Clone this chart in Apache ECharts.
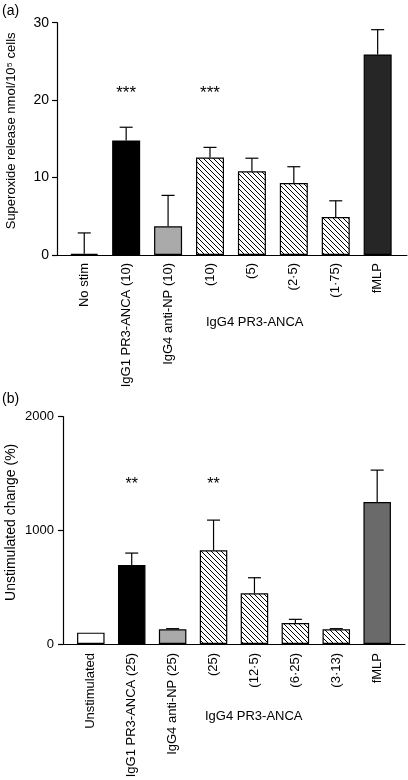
<!DOCTYPE html>
<html>
<head>
<meta charset="utf-8">
<script src="https://cdn.jsdelivr.net/npm/echarts@6/dist/echarts.min.js"></script>
<style>
html,body{margin:0;padding:0;background:#fff;}
#chart{width:408px;height:780px;}
</style>
</head>
<body>
<div id="chart"></div>
<script>
// ---- data ----
const catsA = ['No stim', 'IgG1 PR3-ANCA (10)', 'IgG4 anti-NP (10)', '(10)', '(5)', '(2\u00b75)', '(1\u00b775)', 'fMLP'];
const valuesA = [0.15, 14.8, 3.7, 12.6, 10.8, 9.3, 4.9, 25.9];
const errA = [2.7, 1.7, 4.0, 1.3, 1.7, 2.1, 2.1, 3.2];
const sigA = ['', '***', '', '***', '', '', '', ''];
const yTicksA = [0, 10, 20, 30];

const catsB = ['Unstimulated', 'IgG1 PR3-ANCA (25)', 'IgG4 anti-NP (25)', '(25)', '(12\u00b75)', '(6\u00b725)', '(3\u00b713)', 'fMLP'];
const valuesB = [100, 695, 129, 824, 446, 185, 129, 1249];
const errB = [0, 105, 6, 266, 137, 32, 6, 281];
const sigB = ['', '**', '', '**', '', '', '', ''];
const yTicksB = [0, 1000, 2000];

const groupLabel = 'IgG4 PR3-ANCA';
const titleA = 'Superoxide release nmol/10\u2075 cells';
const titleB = 'Unstimulated change (%)';

// ---- styles ----
const FONT = '"Liberation Sans", Arial, Helvetica, sans-serif';
function hatch() {
  const s = 5;
  const c = document.createElement('canvas');
  c.width = s; c.height = s;
  const g = c.getContext('2d');
  g.fillStyle = '#fff'; g.fillRect(0, 0, s, s);
  g.strokeStyle = '#000'; g.lineWidth = 1;
  g.beginPath();
  g.moveTo(-1, -1); g.lineTo(s + 1, s + 1);
  g.moveTo(s - 1, -1); g.lineTo(s + 1, 1);
  g.moveTo(-1, s - 1); g.lineTo(1, s + 1);
  g.stroke();
  return { image: c, repeat: 'repeat' };
}
const H = hatch();
const fillsA = ['#ffffff', '#000000', '#aaaaaa', H, H, H, H, '#262626'];
const fillsB = ['#ffffff', '#000000', '#aaaaaa', H, H, H, H, '#6a6a6a'];

function barData(vals, fills) {
  return vals.map((v, i) => ({ value: [i, v], itemStyle: { color: fills[i] } }));
}
function errData(vals, errs) {
  return vals.map((v, i) => [i, v, errs[i]]);
}
function errRender(params, api) {
  const x = api.value(0), v = api.value(1), e = api.value(2);
  if (!e) return null;
  const base = api.coord([x, v]);
  const top = api.coord([x, v + e]);
  const hw = 6.5;
  return {
    type: 'group',
    children: [
      { type: 'line', shape: { x1: base[0], y1: base[1], x2: top[0], y2: top[1] }, style: { stroke: '#000', lineWidth: 1.2 } },
      { type: 'line', shape: { x1: top[0] - hw, y1: top[1], x2: top[0] + hw, y2: top[1] }, style: { stroke: '#000', lineWidth: 1.2 } }
    ]
  };
}
function sigRender(texts, size) {
  return function (params, api) {
    const t = texts[params.dataIndex];
    if (!t) return null;
    const p = api.coord([api.value(0), api.value(1)]);
    return { type: 'text', x: p[0], y: p[1], style: { text: t, fill: '#000', font: size + 'px ' + FONT, align: 'center', verticalAlign: 'middle' } };
  };
}
function catFormatter(cats) {
  return function (v) {
    const r = Math.round(Number(v));
    if (Math.abs(Number(v) - r) > 1e-6 || r < 0 || r >= cats.length) return '';
    return cats[r];
  };
}

const chart = echarts.init(document.getElementById('chart'), null, { renderer: 'canvas' });
const option = {
  backgroundColor: '#fff',
  animation: false,
  textStyle: { fontFamily: FONT, color: '#000' },
  grid: [
    { left: 57, right: 1, top: 22.7, bottom: 525, containLabel: false, outerBoundsMode: 'none' },
    { left: 63, right: 3, top: 416.7, bottom: 136, containLabel: false, outerBoundsMode: 'none' }
  ],
  xAxis: [
    {
      type: 'value', gridIndex: 0, min: -0.65, max: 7.7,
      splitLine: { show: false }, axisTick: { show: false },
      axisLine: { show: true, onZero: false, lineStyle: { color: '#000', width: 1 } },
      axisLabel: { show: true, rotate: 90, margin: 8, fontSize: 13, color: '#000', fontFamily: FONT, formatter: catFormatter(catsA), hideOverlap: false, customValues: catsA.map((c, i) => i) }
    },
    {
      type: 'value', gridIndex: 1, min: -0.68, max: 7.68,
      splitLine: { show: false }, axisTick: { show: false },
      axisLine: { show: true, onZero: false, lineStyle: { color: '#000', width: 1 } },
      axisLabel: { show: true, rotate: 90, margin: 9, fontSize: 13, color: '#000', fontFamily: FONT, formatter: catFormatter(catsB), hideOverlap: false, customValues: catsB.map((c, i) => i) }
    }
  ],
  yAxis: [
    {
      type: 'value', gridIndex: 0, min: yTicksA[0], max: yTicksA[yTicksA.length - 1], interval: yTicksA[1] - yTicksA[0],
      splitLine: { show: false },
      axisLine: { show: true, onZero: false, lineStyle: { color: '#000', width: 1.2 } },
      axisTick: { show: true, length: 5, lineStyle: { color: '#000', width: 1.2 } },
      axisLabel: { margin: 8, fontSize: 14, color: '#000', fontFamily: FONT, formatter: v => String(v) },
      name: titleA, nameLocation: 'middle', nameGap: 39, nameRotate: 90, nameMoveOverlap: false,
      nameTextStyle: { fontSize: 13, color: '#000', fontFamily: FONT, padding: [0, 0, 0, 16] }
    },
    {
      type: 'value', gridIndex: 1, min: yTicksB[0], max: yTicksB[yTicksB.length - 1], interval: yTicksB[1] - yTicksB[0],
      splitLine: { show: false },
      axisLine: { show: true, onZero: false, lineStyle: { color: '#000', width: 1.2 } },
      axisTick: { show: true, length: 5, lineStyle: { color: '#000', width: 1.2 } },
      axisLabel: { margin: 9, fontSize: 13, color: '#000', fontFamily: FONT, formatter: v => String(v) },
      name: titleB, nameLocation: 'middle', nameGap: 45, nameRotate: 90, nameMoveOverlap: false,
      nameTextStyle: { fontSize: 14, color: '#000', fontFamily: FONT, padding: [0, 0, 0, 16] }
    }
  ],
  series: [
    {
      type: 'bar', xAxisIndex: 0, yAxisIndex: 0, barWidth: 28, z: 2,
      itemStyle: { borderColor: '#000', borderWidth: 1.2 },
      data: barData(valuesA, fillsA)
    },
    { type: 'custom', xAxisIndex: 0, yAxisIndex: 0, z: 3, renderItem: errRender, data: errData(valuesA, errA) },
    { type: 'custom', xAxisIndex: 0, yAxisIndex: 0, z: 3, renderItem: sigRender(sigA, 17), data: sigA.map((s, i) => [i, 20.9]) },
    {
      type: 'bar', xAxisIndex: 1, yAxisIndex: 1, barWidth: 27.5, z: 2,
      itemStyle: { borderColor: '#000', borderWidth: 1.2 },
      data: barData(valuesB, fillsB)
    },
    { type: 'custom', xAxisIndex: 1, yAxisIndex: 1, z: 3, renderItem: errRender, data: errData(valuesB, errB) },
    { type: 'custom', xAxisIndex: 1, yAxisIndex: 1, z: 3, renderItem: sigRender(sigB, 16), data: sigB.map((s, i) => [i, 1400]) }
  ],
  graphic: [
    { type: 'text', left: 2, top: 4, style: { text: '(a)', font: '14px ' + FONT, fill: '#000' } },
    { type: 'text', left: 2, top: 392, style: { text: '(b)', font: '14px ' + FONT, fill: '#000' } },
    { type: 'text', left: 206, top: 316, style: { text: groupLabel, font: '13px ' + FONT, fill: '#000' } },
    { type: 'text', left: 205, top: 710, style: { text: groupLabel, font: '13px ' + FONT, fill: '#000' } }
  ]
};
chart.setOption(option);
</script>
</body>
</html>
